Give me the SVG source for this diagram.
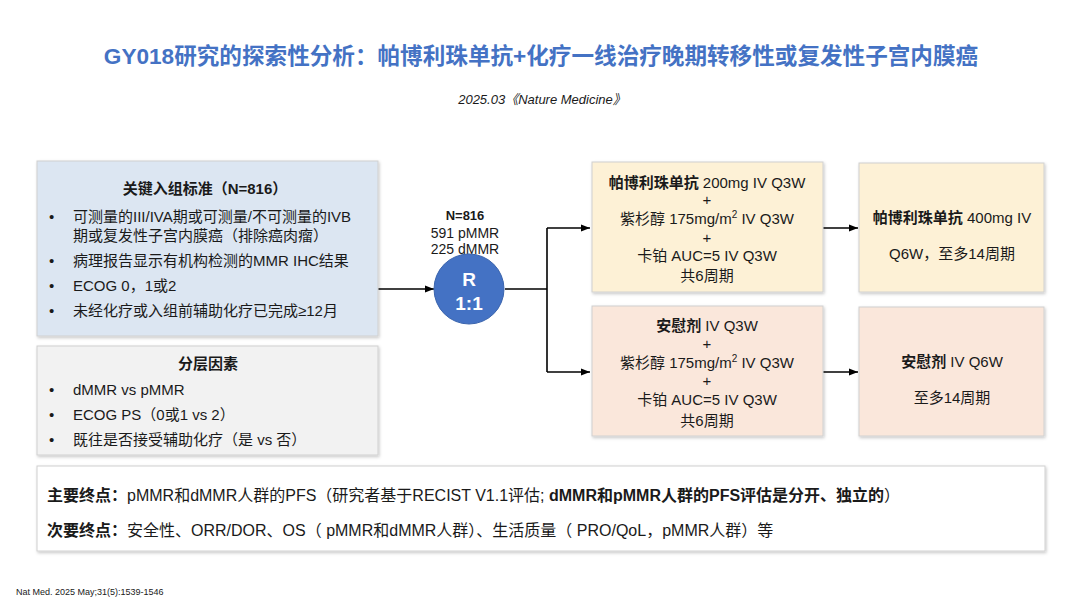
<svg xmlns="http://www.w3.org/2000/svg" width="1080" height="608" viewBox="0 0 1080 608">
<defs>
<style>
text{font-family:"Liberation Sans","Noto Sans CJK SC",sans-serif;fill:#1a1a1a;}
.t15{font-size:15px;}
.t16{font-size:16px;}
.c{text-anchor:middle;}
.b{font-weight:bold;}
.box{stroke:#d0d0d0;stroke-width:1;}
.ln{stroke:#000;stroke-width:1.6;fill:none;}
</style>
<filter id="sh" x="-5%" y="-5%" width="110%" height="115%">
<feDropShadow dx="1" dy="1.5" stdDeviation="1.5" flood-color="#000" flood-opacity="0.22"/>
</filter>
<marker id="ah" viewBox="0 0 10 10" refX="10" refY="5" markerWidth="9" markerHeight="9" markerUnits="userSpaceOnUse" orient="auto">
<path d="M0,1 L10,5 L0,9 z" fill="#000"/>
</marker>
</defs>
<rect width="1080" height="608" fill="#fff"/>

<g id="title">
<text x="541" y="64" class="c b" style="font-size:22.6px;fill:#4472C4">GY018研究的探索性分析：帕博利珠单抗+化疗一线治疗晚期转移性或复发性子宫内膜癌</text>
<text x="542" y="104" class="c" style="font-size:13px;font-style:italic">2025.03《Nature Medicine》</text>
</g>

<g id="connectors">
<line class="ln" x1="378" y1="289" x2="434" y2="289" marker-end="url(#ah)"/>
<polyline class="ln" points="505,289 547,289"/>
<line class="ln" x1="547" y1="228" x2="547" y2="372"/>
<line class="ln" x1="547" y1="228" x2="590" y2="228" marker-end="url(#ah)"/>
<line class="ln" x1="547" y1="372" x2="590" y2="372" marker-end="url(#ah)"/>
<line class="ln" x1="823" y1="228" x2="858" y2="228" marker-end="url(#ah)"/>
<line class="ln" x1="823" y1="372" x2="858" y2="372" marker-end="url(#ah)"/>
</g>

<g id="inclusion">
<rect x="37" y="161" width="341" height="175" fill="#DCE6F2" class="box" filter="url(#sh)"/>
<text x="205" y="194" class="t15 c b">关键入组标准（N=816）</text>
<text x="49" y="222" class="t15">•</text>
<text x="73" y="222" class="t15">可测量的III/IVA期或可测量/不可测量的IVB</text>
<text x="73" y="241" class="t15">期或复发性子宫内膜癌（排除癌肉瘤）</text>
<text x="49" y="266" class="t15">•</text>
<text x="73" y="266" class="t15">病理报告显示有机构检测的MMR IHC结果</text>
<text x="49" y="291" class="t15">•</text>
<text x="73" y="291" class="t15">ECOG 0，1或2</text>
<text x="49" y="316" class="t15">•</text>
<text x="73" y="316" class="t15">未经化疗或入组前辅助化疗已完成≥12月</text>
</g>

<g id="strat">
<rect x="37" y="346" width="341" height="109" fill="#F2F2F2" class="box" filter="url(#sh)"/>
<text x="208" y="369" class="t15 c b">分层因素</text>
<text x="49" y="395" class="t15">•</text>
<text x="73" y="395" class="t15">dMMR vs pMMR</text>
<text x="49" y="420" class="t15">•</text>
<text x="73" y="420" class="t15">ECOG PS（0或1 vs 2）</text>
<text x="49" y="445" class="t15">•</text>
<text x="73" y="445" class="t15">既往是否接受辅助化疗（是 vs 否）</text>
</g>

<g id="random">
<text x="465" y="220" class="c b" style="font-size:13px">N=816</text>
<text x="465" y="238" class="c" style="font-size:14px">591 pMMR</text>
<text x="465" y="254" class="c" style="font-size:14px">225 dMMR</text>
<circle cx="469" cy="289" r="35" fill="#4472C4" stroke="#3a64ad" stroke-width="1"/>
<text x="469" y="286" class="c b" style="font-size:19px;fill:#fff">R</text>
<text x="469" y="310" class="c b" style="font-size:19px;fill:#fff">1:1</text>
</g>

<g id="armA">
<rect x="592" y="162" width="231" height="130" fill="#FDF1D6" class="box" filter="url(#sh)"/>
<text x="707" y="188" class="t15 c"><tspan class="b">帕博利珠单抗</tspan> 200mg IV Q3W</text>
<text x="707" y="205" class="t15 c">+</text>
<text x="707" y="224" class="t15 c">紫杉醇 175mg/m<tspan font-size="10" dy="-6">2</tspan><tspan dy="6"> IV Q3W</tspan></text>
<text x="707" y="243" class="t15 c">+</text>
<text x="707" y="261" class="t15 c">卡铂 AUC=5 IV Q3W</text>
<text x="707" y="281" class="t15 c">共6周期</text>
</g>

<g id="armB">
<rect x="592" y="306" width="231" height="130" fill="#FAE7DB" class="box" filter="url(#sh)"/>
<text x="707" y="331" class="t15 c"><tspan class="b">安慰剂</tspan> IV Q3W</text>
<text x="707" y="349" class="t15 c">+</text>
<text x="707" y="368" class="t15 c">紫杉醇 175mg/m<tspan font-size="10" dy="-6">2</tspan><tspan dy="6"> IV Q3W</tspan></text>
<text x="707" y="386" class="t15 c">+</text>
<text x="707" y="405" class="t15 c">卡铂 AUC=5 IV Q3W</text>
<text x="707" y="426" class="t15 c">共6周期</text>
</g>

<g id="maintA">
<rect x="859" y="163" width="185" height="129" fill="#FDF1D6" class="box" filter="url(#sh)"/>
<text x="952" y="223" class="t15 c"><tspan class="b">帕博利珠单抗</tspan> 400mg IV</text>
<text x="952" y="259" class="t15 c">Q6W，至多14周期</text>
</g>

<g id="maintB">
<rect x="859" y="307" width="185" height="129" fill="#FAE7DB" class="box" filter="url(#sh)"/>
<text x="952" y="367" class="t15 c"><tspan class="b">安慰剂</tspan> IV Q6W</text>
<text x="952" y="403" class="t15 c">至多14周期</text>
</g>

<g id="endpoints">
<rect x="37" y="466" width="1008" height="85" fill="#fff" class="box" filter="url(#sh)"/>
<text x="47" y="501" class="t16"><tspan class="b">主要终点：</tspan>pMMR和dMMR人群的PFS（研究者基于RECIST V1.1评估; <tspan class="b">dMMR和pMMR人群的PFS评估是分开、独立的</tspan>）</text>
<text x="47" y="536" class="t16"><tspan class="b">次要终点：</tspan>安全性、ORR/DOR、OS（ pMMR和dMMR人群）、生活质量（ PRO/QoL，pMMR人群）等</text>
</g>

<g id="footnote">
<text x="16" y="595" style="font-size:9px">Nat Med. 2025 May;31(5):1539-1546</text>
</g>
</svg>
